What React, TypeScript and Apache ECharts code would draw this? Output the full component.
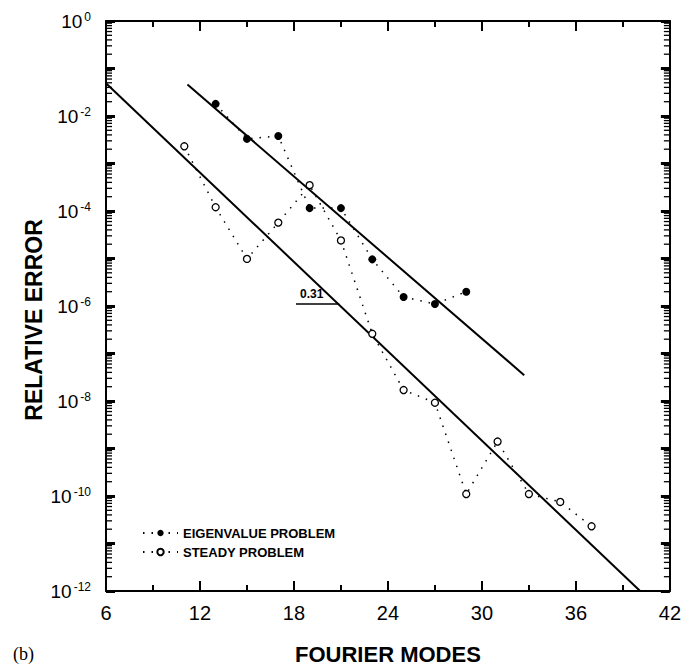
import React, { useEffect, useRef } from "react";
import * as echarts from "echarts";

// ---- data ----
const xTickMin = 6;
const xTickMax = 42;
const xTickStep = 6;
const yMin = 1e-12;
const yMax = 1;

const modesEigen = [13, 15, 17, 19, 21, 23, 25, 27, 29];
const errEigen = [1.8e-2, 3.3e-3, 3.8e-3, 1.15e-4, 1.15e-4, 9.6e-6, 1.55e-6, 1.1e-6, 2.0e-6];

const modesSteady = [11, 13, 15, 17, 19, 21, 23, 25, 27, 29, 31, 33, 35, 37];
const errSteady = [2.3e-3, 1.2e-4, 9.8e-6, 5.7e-5, 3.5e-4, 2.4e-5, 2.6e-7, 1.7e-8, 9.2e-9, 1.1e-10, 1.4e-9, 1.1e-10, 7.5e-11, 2.3e-11];

const fitEigenX = [11.2, 32.7];
const fitEigenY = [4.6e-2, 3.5e-8];
const fitSteadyX = [6, 40.1];
const fitSteadyY = [4.9e-2, 1e-12];

const slopeX = [18.13, 20.89];
const slopeY = 1.12e-6;
const slopeLabel = "0.31";

const decades = [-12, -11, -10, -9, -8, -7, -6, -5, -4, -3, -2, -1];
const minorMultipliers = [2, 3, 4, 5, 6, 7, 8, 9];

const nameEigen = "EIGENVALUE PROBLEM";
const nameSteady = "STEADY PROBLEM";
const xName = "FOURIER MODES";
const yName = "RELATIVE ERROR";
const panelLabel = "(b)";

const FONT = '"Liberation Sans", Arial, Helvetica, sans-serif';
const TICK = "#000";

export default function App() {
  const ref = useRef<HTMLDivElement>(null);

  useEffect(() => {
    document.body.style.margin = "0";
    if (!ref.current) return;
    const chart = echarts.init(ref.current, undefined, { renderer: "svg" });

    const minorData: number[][] = [];
    decades.forEach((d) => {
      minorMultipliers.forEach((m) => {
        minorData.push([xTickMin, m * Math.pow(10, d)]);
      });
    });

    const yLabelFormatter = (v: number) => {
      const e = Math.round(Math.log10(v));
      if (e % 2 !== 0) return "";
      return `{a|10}{b|${e}}`;
    };

    const axisLineStyle = { color: "#000", width: 2 };

    const xCommon = {
      type: "value" as const,
      min: xTickMin,
      max: xTickMax,
      interval: xTickStep,
      z: 5,
      axisLine: { show: true, onZero: false, lineStyle: axisLineStyle },
      axisTick: { show: true, inside: true, length: 10, lineStyle: { color: TICK, width: 2 } },
      minorTick: { show: true, splitNumber: 2, length: 6, lineStyle: { color: TICK, width: 2 } },
      splitLine: { show: false },
    };

    const yCommon = {
      type: "log" as const,
      logBase: 10,
      min: yMin,
      max: yMax,
      interval: 1,
      splitNumber: 12,
      z: 5,
      axisLine: { show: true, onZero: false, lineStyle: axisLineStyle },
      axisTick: { show: true, inside: true, length: 9, lineStyle: { color: TICK, width: 3 } },
      splitLine: { show: false },
    };

    const dotted = [1.5, 7];

    chart.setOption({
      animation: false,
      grid: { left: 106, right: 12, top: 21, bottom: 74 },
      xAxis: [
        {
          ...xCommon,
          position: "bottom",
          axisLabel: { fontSize: 20, color: "#000", fontFamily: FONT, margin: 12 },
          name: xName,
          nameLocation: "middle",
          nameGap: 52,
          nameTextStyle: { fontSize: 22, fontWeight: "bold", color: "#000", fontFamily: FONT },
        },
        {
          ...xCommon,
          position: "top",
          axisLabel: { show: false },
        },
      ],
      yAxis: [
        {
          ...yCommon,
          position: "left",
          axisLabel: {
            color: "#000",
            fontFamily: FONT,
            margin: 15,
            formatter: yLabelFormatter,
            rich: {
              a: { fontSize: 19, fontFamily: FONT, color: "#000", lineHeight: 20, verticalAlign: "bottom" },
              b: { fontSize: 12, fontFamily: FONT, color: "#000", lineHeight: 12, verticalAlign: "top", padding: [0, 0, 0, 2] },
            },
          },
        },
        {
          ...yCommon,
          position: "right",
          axisLabel: { show: false },
        },
      ],
      legend: {
        data: [nameEigen, nameSteady],
        orient: "vertical",
        left: 142,
        top: 526,
        padding: 0,
        itemWidth: 35,
        itemHeight: 8,
        itemGap: 5,
        textStyle: { fontSize: 13, fontWeight: "bold", color: "#000", fontFamily: FONT, lineHeight: 14 },
      },
      graphic: [
        {
          type: "text",
          left: 13,
          top: 645,
          style: { text: panelLabel, font: '18px "Liberation Serif", "Times New Roman", serif', fill: "#000" },
        },
        {
          type: "text",
          x: 34,
          y: 320,
          rotation: Math.PI / 2,
          style: {
            text: yName,
            align: "center",
            verticalAlign: "middle",
            font: `bold 23px ${FONT}`,
            fill: "#000",
          },
        },
      ],
      series: [
        {
          type: "custom",
          name: "minor",
          silent: true,
          encode: { x: 0, y: 1 },
          data: minorData,
          renderItem: (params: any, api: any) => {
            const v = api.value(1);
            const l = api.coord([xTickMin, v]);
            const r = api.coord([xTickMax, v]);
            const st = { stroke: TICK, lineWidth: 1.3 };
            return {
              type: "group",
              children: [
                { type: "line", shape: { x1: l[0], y1: l[1], x2: l[0] + 6, y2: l[1] }, style: st },
                { type: "line", shape: { x1: r[0] - 6, y1: r[1], x2: r[0], y2: r[1] }, style: st },
              ],
            };
          },
          z: 1,
        },
        {
          type: "line",
          name: "fitEigen",
          data: fitEigenX.map((x, i) => [x, fitEigenY[i]]),
          showSymbol: false,
          symbol: "none",
          lineStyle: { color: "#000", width: 2 },
          silent: true,
          z: 2,
        },
        {
          type: "line",
          name: "fitSteady",
          data: fitSteadyX.map((x, i) => [x, fitSteadyY[i]]),
          showSymbol: false,
          symbol: "none",
          lineStyle: { color: "#000", width: 2 },
          silent: true,
          z: 2,
          markLine: {
            silent: true,
            symbol: ["none", "none"],
            lineStyle: { color: "#000", width: 1.5, type: "solid" },
            label: {
              show: true,
              formatter: slopeLabel,
              position: "insideStartTop",
              distance: 4,
              fontSize: 12,
              fontWeight: "bold",
              color: "#000",
              fontFamily: FONT,
            },
            data: [[{ coord: [slopeX[0], slopeY] }, { coord: [slopeX[1], slopeY] }]],
          },
        },
        {
          type: "line",
          name: nameEigen,
          data: modesEigen.map((x, i) => [x, errEigen[i]]),
          symbol: "circle",
          symbolSize: 8,
          itemStyle: { color: "#000" },
          lineStyle: { color: "#000", width: 1.5, type: dotted },
          z: 3,
        },
        {
          type: "line",
          name: nameSteady,
          data: modesSteady.map((x, i) => [x, errSteady[i]]),
          symbol: "circle",
          symbolSize: 7,
          itemStyle: { color: "#fff", borderColor: "#000", borderWidth: 1.3 },
          lineStyle: { color: "#000", width: 1.5, type: dotted },
          z: 3,
        },
      ],
    });

    return () => chart.dispose();
  }, []);

  return <div ref={ref} style={{ width: 684, height: 670, background: "#fff" }} />;
}
